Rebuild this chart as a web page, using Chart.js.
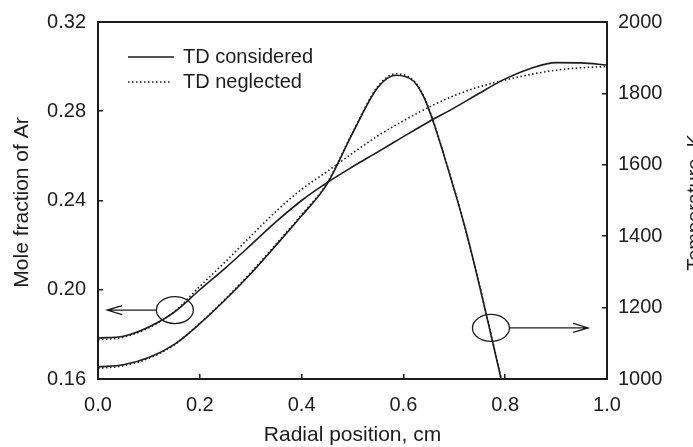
<!DOCTYPE html>
<html>
<head>
<meta charset="utf-8">
<script src="https://cdn.jsdelivr.net/npm/chart.js@4.4.1/dist/chart.umd.min.js"></script>
<style>
  html, body { margin:0; padding:0; background:#fff }
</style>
</head>
<body>
<canvas id="c" width="693" height="447"></canvas>
<script>
// ===== data =====
// radial position, cm
const radius = [0, 0.05, 0.1, 0.15, 0.2, 0.25, 0.3, 0.35, 0.4, 0.45, 0.5, 0.55, 0.6, 0.65, 0.7, 0.75, 0.8, 0.85, 0.9, 0.95, 1.0]
// mole fraction of Ar
const arTD   = [0.1784, 0.1792, 0.1833, 0.1900, 0.2000, 0.2097, 0.2200, 0.2305, 0.2400, 0.2480, 0.2551, 0.2618, 0.2686, 0.2753, 0.2815, 0.2882, 0.2945, 0.2992, 0.3018, 0.3017, 0.3007]
const arNoTD = [0.1776, 0.1787, 0.1830, 0.1902, 0.2015, 0.2125, 0.2240, 0.2352, 0.2450, 0.2530, 0.2612, 0.2690, 0.2757, 0.2818, 0.2870, 0.2910, 0.2940, 0.2965, 0.2984, 0.2995, 0.3000]
// temperature, K (leaves the plot below 1000 K)
const tempRadius = [0, 0.05, 0.1, 0.15, 0.2, 0.25, 0.3, 0.35, 0.4, 0.45, 0.5, 0.55, 0.585, 0.62, 0.64, 0.66, 0.68, 0.70, 0.72, 0.74, 0.76, 0.78, 0.80]
const tempTD   = [1034, 1040, 1060, 1097, 1155, 1222, 1295, 1375, 1457, 1546, 1688, 1817, 1851, 1834, 1790, 1715, 1625, 1530, 1430, 1318, 1198, 1075, 950]
const tempNoTD = [1030, 1037, 1058, 1096, 1156, 1224, 1298, 1378, 1460, 1549, 1690, 1820, 1855, 1836, 1792, 1717, 1627, 1531, 1431, 1319, 1199, 1076, 951]

const xTicks = [0, 0.2, 0.4, 0.6, 0.8, 1.0]
const arTicks = [0.16, 0.20, 0.24, 0.28, 0.32]
const tempTicks = [1000, 1200, 1400, 1600, 1800, 2000]

const seriesNames = ['TD considered', 'TD neglected']

// ellipse + arrow callouts (data units)
const callouts = [
  { yAxis: 'y',  cx: 0.151, cy: 0.1909, tipX: 0.018 },
  { yAxis: 'y1', cx: 0.772, cy: 1143,   tipX: 0.963 }
]

const INK = '#1c1c1c'
const FONT = "'Liberation Sans', Arial, sans-serif"

const pts = (xs, ys) => xs.map((x, i) => ({ x, y: ys[i] }))
const dotted = [1.5, 2.5]

const decor = {
  id: 'decor',
  afterDatasetsDraw(chart) {
    const { ctx, chartArea: a, scales } = chart
    ctx.save()

    // frame
    ctx.strokeStyle = INK
    ctx.lineWidth = 2
    ctx.strokeRect(a.left, a.top, a.right - a.left, a.bottom - a.top)

    // callouts
    ctx.lineWidth = 1.3
    callouts.forEach(c => {
      const cx = scales.x.getPixelForValue(c.cx)
      const cy = scales[c.yAxis].getPixelForValue(c.cy)
      const tx = scales.x.getPixelForValue(c.tipX)
      const rx = 18.5, ry = 13.5
      const dir = tx < cx ? -1 : 1
      ctx.beginPath()
      ctx.ellipse(cx, cy, rx, ry, 0, 0, Math.PI * 2)
      ctx.stroke()
      ctx.beginPath()
      ctx.moveTo(cx + dir * rx, cy)
      ctx.lineTo(tx, cy)
      ctx.moveTo(tx - dir * 15, cy - 4.5)
      ctx.lineTo(tx, cy)
      ctx.lineTo(tx - dir * 15, cy + 4.5)
      ctx.stroke()
    })

    // legend
    const lx0 = 128, lx1 = 174
    ctx.lineWidth = 1.5
    ctx.beginPath(); ctx.moveTo(lx0, 57); ctx.lineTo(lx1, 57); ctx.stroke()
    ctx.setLineDash(dotted)
    ctx.beginPath(); ctx.moveTo(lx0, 82); ctx.lineTo(lx1 - 4, 82); ctx.stroke()
    ctx.setLineDash([])
    ctx.fillStyle = INK
    ctx.font = `20px ${FONT}`
    ctx.textAlign = 'left'
    ctx.textBaseline = 'alphabetic'
    ctx.fillText(seriesNames[0], 183, 63)
    ctx.fillText(seriesNames[1], 183, 88)

    // axis titles
    ctx.font = `21px ${FONT}`
    ctx.textAlign = 'center'
    ctx.fillText('Radial position, cm', (a.left + a.right) / 2, 441)
    const mid = (a.top + a.bottom) / 2 + 2
    ctx.save()
    ctx.translate(28, mid)
    ctx.rotate(-Math.PI / 2)
    ctx.fillText('Mole fraction of Ar', 0, 0)
    ctx.restore()
    ctx.save()
    ctx.translate(701, mid)
    ctx.rotate(-Math.PI / 2)
    ctx.font = `20px ${FONT}`
    ctx.fillText('Temperature, K', 0, 0)
    ctx.restore()

    ctx.restore()
  }
}

const axisGrid = { drawOnChartArea: false, drawTicks: true, tickLength: -5, color: INK, lineWidth: 1.5 }
const tickFont = { family: FONT, size: 20 }
const fixV = w => s => { s.width = w; s.paddingTop = 0; s.paddingBottom = 0 }

new Chart(document.getElementById('c'), {
  type: 'scatter',
  data: {
    datasets: [
      { data: pts(radius, arTD), yAxisID: 'y', borderColor: INK, borderWidth: 1.6 },
      { data: pts(radius, arNoTD), yAxisID: 'y', borderColor: INK, borderWidth: 1.6, borderDash: dotted },
      { data: pts(tempRadius, tempTD), yAxisID: 'y1', borderColor: INK, borderWidth: 1.6 },
      { data: pts(tempRadius, tempNoTD), yAxisID: 'y1', borderColor: INK, borderWidth: 1.6, borderDash: dotted }
    ].map(d => ({ ...d, showLine: true, pointRadius: 0, pointHitRadius: 0, cubicInterpolationMode: 'monotone' }))
  },
  options: {
    responsive: false,
    animation: false,
    events: [],
    layout: { padding: { top: 22, left: 0, right: 0, bottom: 0 } },
    plugins: { legend: { display: false }, tooltip: { enabled: false } },
    scales: {
      x: {
        type: 'linear', position: 'bottom', min: 0, max: 1,
        afterBuildTicks: s => { s.ticks = xTicks.map(v => ({ value: v })) },
        afterFit: s => { s.height = 68; s.paddingLeft = 0; s.paddingRight = 0 },
        grid: axisGrid, border: { display: false },
        ticks: { color: INK, font: tickFont, padding: 19, maxRotation: 0, callback: v => v.toFixed(1) }
      },
      y: {
        type: 'linear', position: 'left', min: 0.16, max: 0.32,
        afterBuildTicks: s => { s.ticks = arTicks.map(v => ({ value: v })) },
        afterFit: fixV(98),
        grid: axisGrid, border: { display: false },
        ticks: { color: INK, font: tickFont, padding: 17, callback: v => v.toFixed(2) }
      },
      y1: {
        type: 'linear', position: 'right', min: 1000, max: 2000,
        afterBuildTicks: s => { s.ticks = tempTicks.map(v => ({ value: v })) },
        afterFit: fixV(86),
        grid: axisGrid, border: { display: false },
        ticks: { color: INK, font: tickFont, padding: 16, callback: v => String(v) }
      }
    }
  },
  plugins: [decor]
})
</script>
</body>
</html>
